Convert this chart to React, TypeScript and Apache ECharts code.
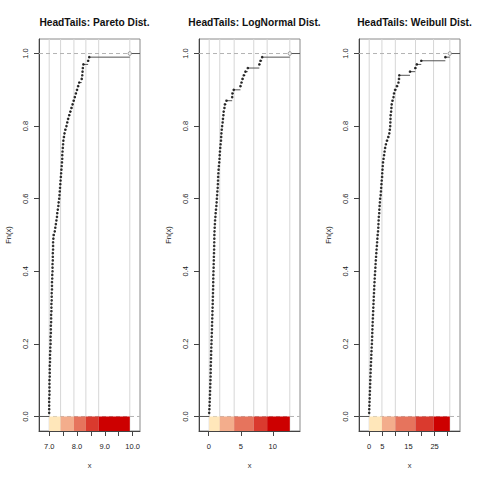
import React, { useEffect, useRef } from 'react';
import * as echarts from 'echarts';

const titles = ['HeadTails: Pareto Dist.', 'HeadTails: LogNormal Dist.', 'HeadTails: Weibull Dist.'];

const paretoValues = [
  7.00, 7.00, 7.00, 7.00, 7.00, 7.01, 7.01, 7.01, 7.01, 7.01,
  7.02, 7.02, 7.02, 7.02, 7.03, 7.03, 7.03, 7.04, 7.04, 7.05,
  7.05, 7.05, 7.06, 7.06, 7.06, 7.07, 7.07, 7.07, 7.08, 7.08,
  7.08, 7.09, 7.09, 7.09, 7.10, 7.10, 7.10, 7.11, 7.11, 7.12,
  7.12, 7.12, 7.13, 7.13, 7.13, 7.14, 7.14, 7.14, 7.15, 7.16,
  7.20, 7.22, 7.24, 7.26, 7.28, 7.29, 7.31, 7.33, 7.34, 7.36,
  7.37, 7.38, 7.39, 7.40, 7.41, 7.42, 7.43, 7.44, 7.45, 7.46,
  7.47, 7.47, 7.48, 7.49, 7.50, 7.51, 7.53, 7.55, 7.58, 7.62,
  7.65, 7.68, 7.72, 7.76, 7.80, 7.84, 7.88, 7.92, 7.96, 8.00,
  8.04, 8.08, 8.17, 8.19, 8.20, 8.21, 8.23, 8.40, 8.44, 9.90,
];

const lognormalValues = [
  0.07, 0.10, 0.13, 0.15, 0.17, 0.19, 0.21, 0.23, 0.25, 0.27,
  0.29, 0.30, 0.31, 0.32, 0.34, 0.35, 0.37, 0.38, 0.40, 0.42,
  0.44, 0.46, 0.48, 0.50, 0.51, 0.53, 0.55, 0.57, 0.58, 0.60,
  0.62, 0.63, 0.65, 0.66, 0.68, 0.69, 0.70, 0.71, 0.72, 0.74,
  0.76, 0.77, 0.79, 0.80, 0.82, 0.84, 0.85, 0.86, 0.87, 0.88,
  0.90, 0.93, 0.96, 0.99, 1.04, 1.08, 1.13, 1.19, 1.23, 1.27,
  1.31, 1.35, 1.40, 1.43, 1.45, 1.47, 1.50, 1.54, 1.58, 1.64,
  1.68, 1.71, 1.75, 1.80, 1.85, 1.91, 1.94, 1.98, 2.03, 2.09,
  2.17, 2.22, 2.29, 2.33, 2.45, 2.52, 2.77, 3.66, 3.70, 3.90,
  4.95, 5.11, 5.27, 5.47, 5.73, 6.10, 7.90, 8.08, 8.34, 12.66,
];

const weibullValues = [
  0.02, 0.05, 0.10, 0.15, 0.20, 0.25, 0.30, 0.35, 0.40, 0.45,
  0.50, 0.55, 0.60, 0.66, 0.72, 0.78, 0.84, 0.90, 0.96, 1.05,
  1.10, 1.15, 1.20, 1.25, 1.30, 1.36, 1.42, 1.48, 1.54, 1.60,
  1.66, 1.72, 1.78, 1.85, 1.92, 1.98, 2.05, 2.12, 2.20, 2.30,
  2.38, 2.46, 2.55, 2.64, 2.74, 2.84, 2.95, 3.05, 3.15, 3.25,
  3.40, 3.50, 3.55, 3.62, 3.70, 3.85, 3.90, 4.00, 4.10, 4.20,
  4.40, 4.50, 4.60, 4.70, 4.80, 4.95, 5.00, 5.10, 5.20, 5.30,
  5.50, 5.70, 5.90, 6.10, 6.40, 6.80, 7.30, 7.70, 7.90, 8.05,
  8.10, 8.15, 8.20, 8.40, 8.50, 8.60, 8.90, 9.30, 9.50, 9.90,
  10.6, 11.2, 11.4, 11.5, 15.6, 17.6, 18.2, 19.9, 29.1, 30.8,
];

const paretoBreaks = [7.0, 7.41, 7.89, 8.32, 8.78, 9.9];
const lognormalBreaks = [0.07, 1.72, 3.97, 7.03, 9.12, 12.66];
const weibullBreaks = [0.02, 4.88, 10.0, 17.7, 24.6, 30.8];

const classColors = ['#FFE7BA', '#F3AD8C', '#E6745D', '#DA3A2E', '#CD0000'];

const paretoTicks = [7, 7.5, 8, 8.5, 9, 9.5, 10];
const paretoTickLabels = [7, 8, 9, 10];
const lognormalTicks = [0, 5, 10];
const lognormalTickLabels = [0, 5, 10];
const weibullTicks = [0, 5, 10, 15, 20, 25, 30];
const weibullTickLabels = [0, 5, 15, 25];
const yTicks = [0, 0.2, 0.4, 0.6, 0.8, 1.0];

const FONT = 'Liberation Sans';

function xLimits(v: number[]): [number, number] {
  const lo = Math.min(...v);
  const hi = Math.max(...v);
  const dr = 0.08 * (hi - lo);
  const a = lo - dr;
  const b = hi + dr;
  const e = 0.04 * (b - a);
  return [a - e, b + e];
}

const Y_MIN = -0.04;
const Y_MAX = 1.04;

function buildOption() {
  const panels = [
    { title: titles[0], values: paretoValues, breaks: paretoBreaks, ticks: paretoTicks, labels: paretoTickLabels, digits: 1 },
    { title: titles[1], values: lognormalValues, breaks: lognormalBreaks, ticks: lognormalTicks, labels: lognormalTickLabels, digits: 0 },
    { title: titles[2], values: weibullValues, breaks: weibullBreaks, ticks: weibullTicks, labels: weibullTickLabels, digits: 0 },
  ];
  const grid: any[] = [];
  const xAxis: any[] = [];
  const yAxis: any[] = [];
  const series: any[] = [];
  const title: any[] = [];

  panels.forEach((p, i) => {
    const left = 39 + 160 * i;
    const [xlo, xhi] = xLimits(p.values);
    const n = p.values.length;
    grid.push({ left, top: 39, width: 101, height: 392, show: true, borderColor: '#8a8a8a', borderWidth: 1, backgroundColor: 'transparent' });
    title.push({
      text: p.title, left: left + 50.5, top: 12, textAlign: 'center',
      textStyle: { fontFamily: FONT, fontSize: 10.2, fontWeight: 'bold', color: '#111' },
    });
    xAxis.push({
      type: 'value', gridIndex: i, min: xlo, max: xhi,
      axisLine: { show: true, onZero: false, lineStyle: { color: '#444', width: 1 } },
      axisTick: { show: true, customValues: p.ticks, length: 5, lineStyle: { color: '#444' } },
      axisLabel: {
        show: true, customValues: p.labels, margin: 11, fontSize: 7.5, fontFamily: FONT, color: '#222',
        formatter: (v: number) => v.toFixed(p.digits),
      },
      splitLine: { show: false },
      name: 'x', nameLocation: 'middle', nameGap: 30,
      nameTextStyle: { fontFamily: FONT, fontSize: 7.5, color: '#333' },
    });
    yAxis.push({
      type: 'value', gridIndex: i, min: Y_MIN, max: Y_MAX,
      axisLine: { show: true, onZero: false, lineStyle: { color: '#444', width: 1 } },
      axisTick: { show: true, customValues: yTicks, length: 5, lineStyle: { color: '#444' } },
      axisLabel: {
        show: true, customValues: yTicks, rotate: 90, margin: 10, fontSize: 7.5, fontFamily: FONT, color: '#222',
        formatter: (v: number) => v.toFixed(1),
      },
      splitLine: { show: false },
      name: 'Fn(x)', nameLocation: 'middle', nameGap: 27,
      nameTextStyle: { fontFamily: FONT, fontSize: 7.5, color: '#222' },
    });

    // vertical lines at class breaks
    series.push({
      type: 'custom', xAxisIndex: i, yAxisIndex: i, z: 1,
      data: p.breaks.map((b) => [b]),
      renderItem: (_params: any, api: any) => {
        const a = api.coord([api.value(0), Y_MIN]);
        const b = api.coord([api.value(0), Y_MAX]);
        return { type: 'line', shape: { x1: a[0], y1: a[1], x2: b[0], y2: b[1] }, style: { stroke: '#d6d6d6', lineWidth: 1 } };
      },
    });
    // dashed reference lines at 0 and 1
    series.push({
      type: 'custom', xAxisIndex: i, yAxisIndex: i, z: 2,
      data: [[0], [1]],
      renderItem: (_params: any, api: any) => {
        const a = api.coord([xlo, api.value(0)]);
        const b = api.coord([xhi, api.value(0)]);
        return { type: 'line', shape: { x1: a[0], y1: a[1], x2: b[0], y2: b[1] }, style: { stroke: '#b3b3b3', lineWidth: 1, lineDash: [4, 3] } };
      },
    });
    // class colour bar
    series.push({
      type: 'custom', xAxisIndex: i, yAxisIndex: i, z: 3,
      data: p.breaks.slice(0, -1).map((b, k) => [b, p.breaks[k + 1], k]),
      renderItem: (_params: any, api: any) => {
        const a = api.coord([api.value(0), 0]);
        const b = api.coord([api.value(1), Y_MIN]);
        return {
          type: 'rect',
          shape: { x: a[0], y: a[1], width: b[0] - a[0], height: b[1] - a[1] },
          style: { fill: classColors[api.value(2)] },
        };
      },
    });
    // ECDF horizontal steps
    const steps: number[][] = [];
    steps.push([xlo, p.values[0], 0]);
    for (let k = 0; k < n - 1; k++) steps.push([p.values[k], p.values[k + 1], (k + 1) / n]);
    steps.push([p.values[n - 1], xhi, 1]);
    series.push({
      type: 'custom', xAxisIndex: i, yAxisIndex: i, z: 4,
      data: steps,
      renderItem: (_params: any, api: any) => {
        const a = api.coord([api.value(0), api.value(2)]);
        const b = api.coord([api.value(1), api.value(2)]);
        return { type: 'line', shape: { x1: a[0], y1: a[1], x2: b[0], y2: b[1] }, style: { stroke: '#555', lineWidth: 1 } };
      },
    });
    // ECDF points
    series.push({
      type: 'scatter', xAxisIndex: i, yAxisIndex: i, z: 5,
      symbol: 'circle', symbolSize: 2.6,
      itemStyle: { color: '#000' },
      data: p.values.slice(0, n - 1).map((v, k) => [v, (k + 1) / n]),
    });
    series.push({
      type: 'scatter', xAxisIndex: i, yAxisIndex: i, z: 6,
      symbol: 'circle', symbolSize: 3.5,
      itemStyle: { color: '#fff', borderColor: '#777', borderWidth: 1 },
      data: [[p.values[n - 1], 1]],
    });
  });

  return { animation: false, backgroundColor: '#fff', title, grid, xAxis, yAxis, series };
}

export default function App() {
  const ref = useRef<HTMLDivElement>(null);
  useEffect(() => {
    if (!ref.current) return;
    const chart = echarts.init(ref.current, undefined, { renderer: 'svg' });
    chart.setOption(buildOption() as any);
    return () => chart.dispose();
  }, []);
  return <div ref={ref} style={{ position: 'absolute', left: 0, top: 0, width: 480, height: 480 }} />;
}
